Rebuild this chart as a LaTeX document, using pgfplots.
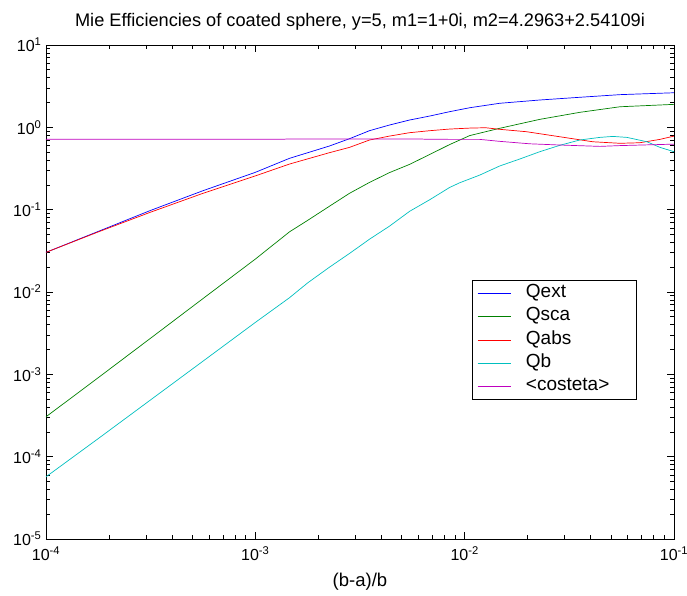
\documentclass[border=0pt]{standalone}
\usepackage{fontspec}
\setmainfont{Liberation Sans}
\usepackage{pgfplots}
\pgfplotsset{compat=1.18}
\usetikzlibrary{calc}
\definecolor{mblue}{rgb}{0,0,1}
\definecolor{mgreen}{rgb}{0,0.5,0}
\definecolor{mred}{rgb}{1,0,0}
\definecolor{mcyan}{rgb}{0,0.75,0.75}
\definecolor{mmag}{rgb}{0.75,0,0.75}
\begin{document}
\begin{tikzpicture}
\begin{axis}[
  scale only axis, width=628pt, height=494pt,
  xmode=log, ymode=log,
  xmin=1e-4, xmax=1e-1, ymin=1e-5, ymax=1e1,
  xtick={1e-4,1e-3,1e-2,1e-1},
  ytick={1e-5,1e-4,1e-3,1e-2,1e-1,1,10},
  xticklabels={10\textsuperscript{-4},10\textsuperscript{-3},10\textsuperscript{-2},10\textsuperscript{-1}},
  yticklabels={10\textsuperscript{-5},10\textsuperscript{-4},10\textsuperscript{-3},10\textsuperscript{-2},10\textsuperscript{-1},10\textsuperscript{0},10\textsuperscript{1}},
  minor xtick={2e-4,3e-4,4e-4,5e-4,6e-4,7e-4,8e-4,9e-4,
               2e-3,3e-3,4e-3,5e-3,6e-3,7e-3,8e-3,9e-3,
               2e-2,3e-2,4e-2,5e-2,6e-2,7e-2,8e-2,9e-2},
  minor ytick={2e-5,3e-5,4e-5,5e-5,6e-5,7e-5,8e-5,9e-5,
               2e-4,3e-4,4e-4,5e-4,6e-4,7e-4,8e-4,9e-4,
               2e-3,3e-3,4e-3,5e-3,6e-3,7e-3,8e-3,9e-3,
               2e-2,3e-2,4e-2,5e-2,6e-2,7e-2,8e-2,9e-2,
               0.2,0.3,0.4,0.5,0.6,0.7,0.8,0.9,
               2,3,4,5,6,7,8,9},
  tick align=inside, xtick pos=both, ytick pos=both,
  ticklabel style={font=\fontsize{16}{19}\selectfont},
  xticklabel style={yshift=-4pt},
  yticklabel style={xshift=-1pt},
  major tick length=7pt, minor tick length=4.5pt,
  tick style={draw=black, line width=0.7pt},
  axis line style={black, line width=0.9pt},
  title={Mie Efficiencies of coated sphere, y=5, m1=1+0i, m2=4.2963+2.54109i},
  title style={font=\fontsize{18.2}{22}\selectfont, at={(axis description cs:0.5,1)}, anchor=base, yshift=12pt},
  xlabel={(b-a)/b},
  xlabel style={font=\fontsize{18.5}{22}\selectfont, at={(axis description cs:0.5,0)}, anchor=base, yshift=-47pt},
  legend style={at={(axis description cs:0.678,0.524)}, anchor=north west, draw=black, line width=0.8pt, fill=white,
    font=\fontsize{19}{22}\selectfont, inner xsep=5pt, inner ysep=3pt, row sep=3.3pt,
    nodes={inner sep=2pt, text height=12pt, text depth=4pt}},
  legend cell align=left,
  legend image code/.code={\draw[#1, line width=0.8pt] (4pt,0pt) -- (37pt,0pt); \path (50pt,0pt);},
  every axis plot/.append style={line width=0.7pt},
]
\addplot[color=mblue] coordinates {
(1e-4,0.0303) (1.778e-4,0.0545) (3.162e-4,0.098) (5.623e-4,0.170) (1e-3,0.284)
(1.455e-3,0.420) (2.259e-3,0.593) (2.818e-3,0.728) (3.508e-3,0.910) (4.375e-3,1.067)
(5.458e-3,1.227) (6.808e-3,1.371) (8.472e-3,1.549) (1.057e-2,1.730) (1.469e-2,1.959)
(2.286e-2,2.148) (3.548e-2,2.317) (5.521e-2,2.495) (0.1,2.630)};
\addlegendentry{Qext}
\addplot[color=mgreen] coordinates {
(1e-4,3.05e-4) (1.778e-4,9.12e-4) (3.162e-4,2.75e-3) (5.623e-4,8.32e-3) (1e-3,0.0251)
(1.455e-3,0.0537) (1.778e-3,0.0741) (2.259e-3,0.110) (2.818e-3,0.158) (3.508e-3,0.214)
(4.375e-3,0.282) (5.458e-3,0.355) (6.808e-3,0.468) (8.472e-3,0.617) (1.057e-2,0.794)
(1.469e-2,0.973) (2.286e-2,1.250) (3.548e-2,1.521) (5.521e-2,1.778) (0.1,1.901)};
\addlegendentry{Qsca}
\addplot[color=mred] coordinates {
(1e-4,0.0303) (1.778e-4,0.0537) (3.162e-4,0.0933) (5.623e-4,0.158) (1e-3,0.257)
(1.455e-3,0.358) (2.259e-3,0.492) (2.818e-3,0.571) (3.508e-3,0.701) (4.375e-3,0.783)
(5.458e-3,0.861) (6.808e-3,0.910) (8.472e-3,0.953) (1.057e-2,0.979) (1.259e-2,0.989)
(1.469e-2,0.946) (1.972e-2,0.885) (2.844e-2,0.769) (4.093e-2,0.668) (5.521e-2,0.640)
(6.871e-2,0.650) (8.570e-2,0.714) (0.1,0.783)};
\addlegendentry{Qabs}
\addplot[color=mcyan] coordinates {
(1e-4,5.69e-5) (1.778e-4,1.66e-4) (3.162e-4,4.90e-4) (5.623e-4,1.445e-3) (1e-3,4.27e-3)
(1.455e-3,8.51e-3) (1.778e-3,0.0129) (2.259e-3,0.0200) (2.818e-3,0.0294) (3.508e-3,0.0437)
(4.375e-3,0.0631) (5.458e-3,0.0955) (6.808e-3,0.132) (8.472e-3,0.186) (9.462e-3,0.212)
(1.180e-2,0.263) (1.469e-2,0.339) (1.832e-2,0.412) (2.286e-2,0.506) (2.844e-2,0.604)
(3.548e-2,0.702) (4.426e-2,0.755) (5.105e-2,0.776) (5.957e-2,0.755) (7.430e-2,0.668)
(8.570e-2,0.571) (0.1,0.506)};
\addlegendentry{Qb}
\addplot[color=mmag] coordinates {
(1e-4,0.715) (1.35e-3,0.715) (1.40e-3,0.72) (6.3e-3,0.72) (6.6e-3,0.715) (1.180e-2,0.714)
(1.469e-2,0.676) (2.046e-2,0.631) (2.844e-2,0.610) (4.426e-2,0.587) (5.521e-2,0.600)
(0.1,0.625)};
\addlegendentry{<costeta>\hspace*{20pt}}
\end{axis}
\pgfresetboundingbox
\path[use as bounding box] ($(current axis.south west)+(-46pt,-57pt)$) rectangle ($(current axis.north east)+(13pt,45pt)$);
\end{tikzpicture}
\end{document}
